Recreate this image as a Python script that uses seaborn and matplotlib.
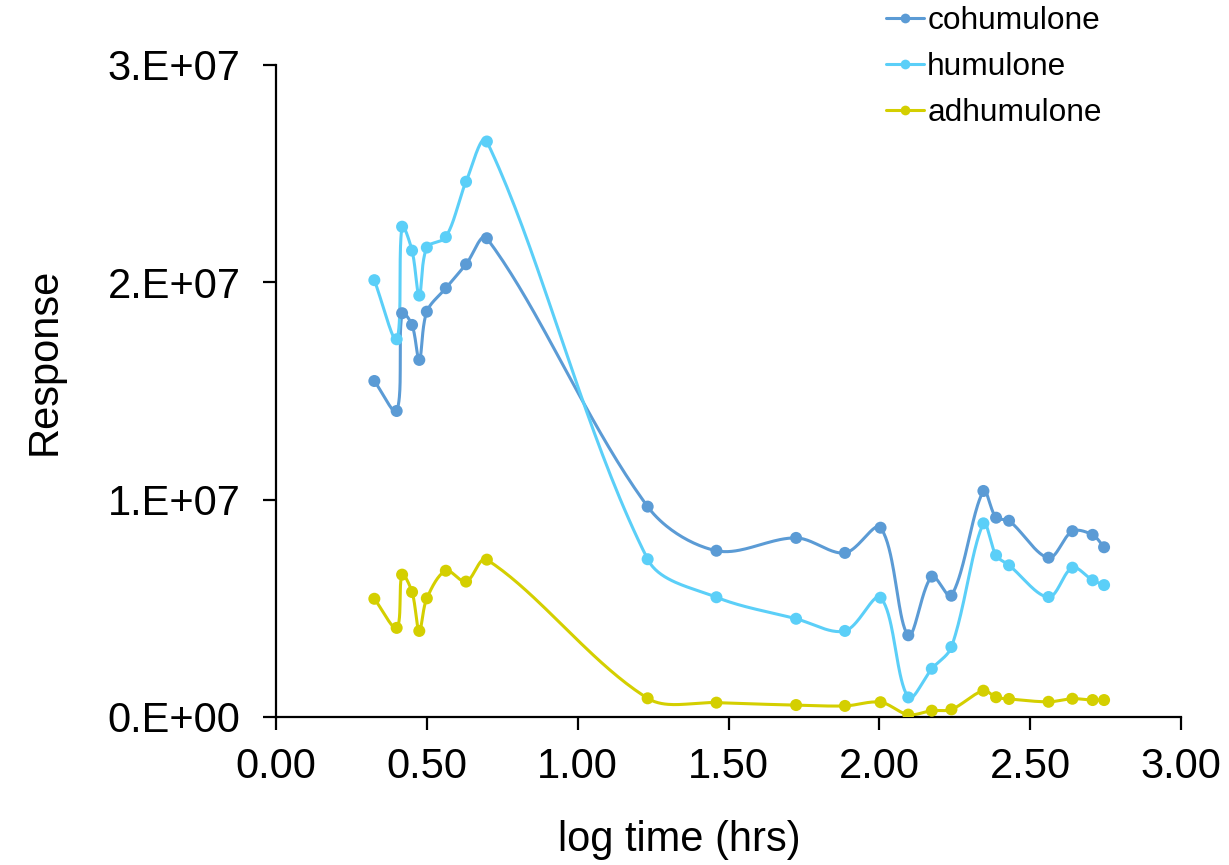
import numpy as np
import pandas as pd
import matplotlib
matplotlib.use("Agg")
import matplotlib.pyplot as plt
import seaborn as sns
from matplotlib.lines import Line2D
from matplotlib.ticker import FuncFormatter

# ---------------- data ----------------
log_time = [0.326, 0.400, 0.418, 0.451, 0.475, 0.500, 0.563, 0.630, 0.699,
            1.232, 1.460, 1.724, 1.886, 2.004, 2.096, 2.174, 2.239, 2.345,
            2.387, 2.430, 2.561, 2.640, 2.707, 2.745]

cohumulone = [1.546, 1.408, 1.858, 1.804, 1.643, 1.865, 1.973, 2.083, 2.203,
              0.968, 0.765, 0.824, 0.755, 0.871, 0.376, 0.646, 0.558, 1.040,
              0.917, 0.903, 0.733, 0.855, 0.838, 0.781]
humulone = [2.010, 1.738, 2.256, 2.146, 1.939, 2.160, 2.208, 2.463, 2.648,
            0.726, 0.551, 0.452, 0.396, 0.549, 0.090, 0.222, 0.322, 0.891,
            0.744, 0.698, 0.552, 0.687, 0.629, 0.607]
adhumulone = [0.544, 0.410, 0.655, 0.575, 0.396, 0.546, 0.673, 0.623, 0.724,
              0.086, 0.066, 0.055, 0.051, 0.068, 0.011, 0.029, 0.035, 0.121,
              0.091, 0.083, 0.070, 0.084, 0.078, 0.078]
series_names = ["cohumulone", "humulone", "adhumulone"]
series_values = [cohumulone, humulone, adhumulone]
scale = 1e7  # values above are in units of 1E+07
colors = ["#5B9BD5", "#5BCFF8", "#D4CF00"]
x_ticks = [0.0, 0.5, 1.0, 1.5, 2.0, 2.5, 3.0]
y_ticks = [0, 1e7, 2e7, 3e7]

# display-space scale used for the smoothing (pixels per data unit)
PX_X = 301.6
PX_Y = 217.3 / 1e7


def smooth(xs, ys, n=40):
    """Excel-like smoothed line: Bezier segments with chord-length-scaled tangents."""
    P = np.column_stack([np.asarray(xs) * PX_X, np.asarray(ys) * PX_Y]).astype(float)
    m = len(P)
    cin = np.zeros_like(P)
    cout = np.zeros_like(P)
    for i in range(m):
        prev = P[i - 1] if i > 0 else P[i]
        nxt = P[i + 1] if i < m - 1 else P[i]
        T = nxt - prev
        dp = np.linalg.norm(P[i] - prev)
        dn = np.linalg.norm(nxt - P[i])
        tot = dp + dn if dp + dn > 0 else 1.0
        cout[i] = P[i] + T * (dn / tot) / 3.0
        cin[i] = P[i] - T * (dp / tot) / 3.0
    out = []
    for i in range(m - 1):
        p1, c1, c2, p2 = P[i], cout[i], cin[i + 1], P[i + 1]
        t = np.linspace(0, 1, n, endpoint=(i == m - 2))[:, None]
        seg = ((1 - t) ** 3) * p1 + 3 * ((1 - t) ** 2) * t * c1 + 3 * (1 - t) * t ** 2 * c2 + t ** 3 * p2
        out.append(seg)
    out = np.vstack(out)
    return out[:, 0] / PX_X, out[:, 1] / PX_Y


sns.set_theme(style="white")
plt.rcParams["font.family"] = ["Liberation Sans", "DejaVu Sans"]

W, H = 1229, 865
fig = plt.figure(figsize=(W / 100, H / 100), dpi=100)
ax = fig.add_axes([276 / W, 1 - 717 / H, (1181 - 276) / W, (717 - 65) / H])

handles = []
for name, vals, col in zip(series_names, series_values, colors):
    yv = np.array(vals) * scale
    sx, sy = smooth(log_time, yv)
    sns.lineplot(x=sx, y=sy, sort=False, estimator=None, color=col, lw=2.2, ax=ax)
    sns.scatterplot(x=log_time, y=yv, color=col, s=75, edgecolor="none", ax=ax, zorder=3)
    handles.append(Line2D([0], [0], color=col, lw=2.2, marker="o", markersize=7,
                          markeredgewidth=0))

ax.set_xlim(0, 3)
ax.set_ylim(0, 3e7)
ax.set_xticks(x_ticks)
ax.set_yticks(y_ticks)
ax.xaxis.set_major_formatter(FuncFormatter(lambda v, p: f"{v:.2f}"))


def yfmt(v, p):
    if v == 0:
        return "0.E+00"
    e = int(np.floor(np.log10(abs(v))))
    return f"{v / 10 ** e:.0f}.E+{e:02d}"


ax.yaxis.set_major_formatter(FuncFormatter(yfmt))

for side in ["top", "right"]:
    ax.spines[side].set_visible(False)
for side in ["left", "bottom"]:
    ax.spines[side].set_color("black")
    ax.spines[side].set_linewidth(1.6)

ax.tick_params(axis="both", which="major", direction="out", length=9.5, width=1.6,
               color="black", labelsize=30, labelcolor="black")
ax.tick_params(axis="y", pad=16, left=True)
ax.tick_params(axis="x", pad=12, bottom=True)

ax.set_xlabel("log time (hrs)", fontsize=30, color="black")
ax.set_ylabel("Response", fontsize=30, color="black")
ax.xaxis.set_label_coords((679 - 276) / 905, (717 - 840) / 652)
ax.xaxis.label.set_va("center")
ax.yaxis.set_label_coords((45 - 276) / 905, (717 - 361) / 652)
ax.yaxis.label.set_va("center")

leg = fig.legend(handles, series_names, loc="upper left",
                 bbox_to_anchor=(886 / W, 1 - 6 / H), frameon=False,
                 fontsize=22.8, handlelength=1.2, handletextpad=0.1,
                 labelspacing=0.5, borderpad=0, borderaxespad=0)
for t in leg.get_texts():
    t.set_color("black")

fig.savefig("out.png", dpi=100)
